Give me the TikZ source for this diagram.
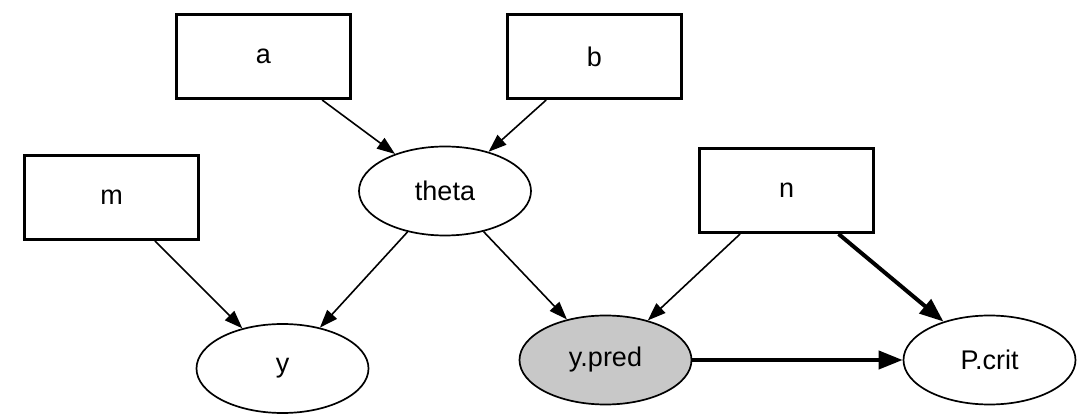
\documentclass[tikz,border=0pt]{standalone}
\usepackage{fontspec}
\setmainfont{Liberation Sans}
\usetikzlibrary{arrows.meta,shapes.geometric}
\definecolor{predgray}{RGB}{200,200,200}
\begin{document}
\begin{tikzpicture}
  [
    x=1pt, y=-1pt,
    font=\fontsize{27}{31}\selectfont,
    const/.style  = {draw, line width=3pt, rectangle, minimum width=174pt, minimum height=84pt, inner sep=0pt},
    stoch/.style  = {draw, line width=1.7pt, ellipse, minimum width=172pt, minimum height=89pt, inner sep=0pt},
    link/.style   = {line width=1.6pt, -{Triangle[length=18pt,width=13pt]}},
    strong/.style = {line width=4pt, -{Triangle[length=24pt,width=18pt]}},
  ]
\useasboundingbox (0,0) rectangle (1087,419);

%Constants (boxes)
\node[const] (a) at (263.5,56.5) {a};
\node[const] (b) at (594.5,56.5) {b};
\node[const] (m) at (111.5,197.5) {m};
\node[const] (n) at (786.5,190.5) {n};

%Stochastic nodes (ellipses)
\node[stoch] (theta) at (445,191) {theta};
\node[stoch] (y) at (282.5,368.5) {y};
\node[stoch, fill=predgray] (ypred) at (605.5,360) {y.pred};
\node[stoch] (pcrit) at (989.5,360) {P.crit};

%Links
\draw[link] (a) -- (theta);
\draw[link] (b) -- (theta);
\draw[link] (m) -- (y);
\draw[link] (theta) -- (y);
\draw[link] (theta) -- (ypred);
\draw[link] (n) -- (ypred);
\draw[strong] (n) -- (pcrit);
\draw[strong] (ypred) -- (pcrit);
\end{tikzpicture}
\end{document}
